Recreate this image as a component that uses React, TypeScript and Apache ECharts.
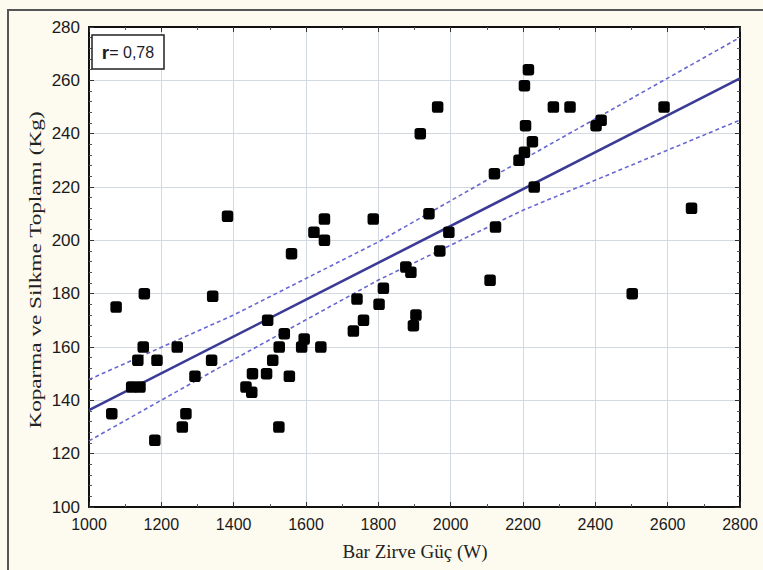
import React, { useEffect, useRef } from "react";
import * as echarts from "echarts";

// Bar peak power (W) and snatch + clean&jerk total (kg)
const power = [
  1063, 1075, 1118, 1141, 1135, 1150, 1153, 1188, 1182, 1244, 1258, 1268, 1293, 1339, 1342, 1383,
  1434, 1450, 1452, 1491, 1494, 1508, 1526, 1540, 1525, 1554, 1560, 1588, 1595, 1641, 1622, 1651,
  1651, 1786, 1731, 1741, 1759, 1802, 1814, 1876, 1890, 1904, 1897, 1916, 1964, 1940, 1970, 1995,
  2109, 2121, 2124, 2215, 2204, 2207, 2226, 2204, 2189, 2231, 2284, 2330, 2402, 2416, 2590, 2666, 2502,
];
const total = [
  135, 175, 145, 145, 155, 160, 180, 155, 125, 160, 130, 135, 149, 155, 179, 209,
  145, 143, 150, 150, 170, 155, 160, 165, 130, 149, 195, 160, 163, 160, 203, 208,
  200, 208, 166, 178, 170, 176, 182, 190, 188, 172, 168, 240, 250, 210, 196, 203,
  185, 225, 205, 264, 258, 243, 237, 233, 230, 220, 250, 250, 243, 245, 250, 212, 180,
];
// regression line and 95% band
const fitX = [1000, 2800];
const fitY = [136.3, 260.7];
const bandX = [1000, 1400, 1800, 2200, 2800];
const bandUpper = [147.8, 172, 199.4, 230.3, 276.1];
const bandLower = [124.8, 155.3, 185.1, 211.3, 245.1];

const xTicks = [1000, 1200, 1400, 1600, 1800, 2000, 2200, 2400, 2600, 2800];
const yTicks = [100, 120, 140, 160, 180, 200, 220, 240, 260, 280];
const rLabel = ["r", "= 0,78"];
const xTitle = "Bar Zirve Güç (W)";
const yTitle = "Koparma ve Silkme Toplamı (Kg)";

const GL = 89, GT = 27, GR = 23, GB = 63;

export default function App() {
  const ref = useRef<HTMLDivElement>(null);
  useEffect(() => {
    if (!ref.current) return;
    const chart = echarts.init(ref.current, null, { renderer: "svg" });
    const tickFmt = (v: number) => (xTicks.includes(v) || yTicks.includes(v) ? String(v) : "");
    const baseAxis = {
      axisLine: { show: true, onZero: false, lineStyle: { color: "#111", width: 2 } },
      axisTick: { show: true, inside: true, length: 5, lineStyle: { color: "#333", width: 1 } },
      minorTick: { show: true, length: 3, lineStyle: { color: "#555", width: 1 } },
    };
    chart.setOption({
      animation: false,
      backgroundColor: "#FDFBEF",
      grid: { left: GL, top: GT, right: GR, bottom: GB, show: true, backgroundColor: "#ffffff", borderWidth: 0 },
      xAxis: [
        {
          ...baseAxis,
          type: "value",
          min: xTicks[0],
          max: xTicks[xTicks.length - 1],
          interval: 200,
          position: "bottom",
          minorTick: { ...baseAxis.minorTick, splitNumber: 2 },
          splitLine: { show: true, lineStyle: { color: "#d3d9e3", width: 1 } },
          axisLabel: {
            formatter: tickFmt,
            color: "#1a1a1a",
            fontSize: 16,
            fontFamily: "'Liberation Sans Narrow', 'Arial Narrow', 'Liberation Sans', Arial, sans-serif",
            margin: 9,
          },
        },
        {
          ...baseAxis,
          type: "value",
          min: xTicks[0],
          max: xTicks[xTicks.length - 1],
          interval: 200,
          position: "top",
          minorTick: { ...baseAxis.minorTick, splitNumber: 2 },
          splitLine: { show: false },
          axisLabel: { show: false },
        },
      ],
      yAxis: [
        {
          ...baseAxis,
          type: "value",
          min: yTicks[0],
          max: yTicks[yTicks.length - 1],
          interval: 20,
          position: "left",
          minorTick: { ...baseAxis.minorTick, splitNumber: 5 },
          splitLine: { show: true, lineStyle: { color: "#d3d9e3", width: 1 } },
          axisLabel: {
            formatter: tickFmt,
            color: "#1a1a1a",
            fontSize: 17,
            fontFamily: "'Liberation Sans', Arial, sans-serif",
            margin: 9,
          },
        },
        {
          ...baseAxis,
          type: "value",
          min: yTicks[0],
          max: yTicks[yTicks.length - 1],
          interval: 20,
          position: "right",
          minorTick: { ...baseAxis.minorTick, splitNumber: 5 },
          splitLine: { show: false },
          axisLabel: { show: false },
        },
      ],
      series: [
        {
          type: "line",
          data: bandX.map((x, i) => [x, bandUpper[i]]),
          symbol: "none",
          lineStyle: { color: "#6767d2", width: 1.6, type: [4, 3] },
          z: 3,
        },
        {
          type: "line",
          data: bandX.map((x, i) => [x, bandLower[i]]),
          symbol: "none",
          lineStyle: { color: "#6767d2", width: 1.6, type: [4, 3] },
          z: 3,
        },
        {
          type: "line",
          data: fitX.map((x, i) => [x, fitY[i]]),
          symbol: "none",
          lineStyle: { color: "#3b3b96", width: 2.6 },
          z: 4,
        },
        {
          type: "scatter",
          data: power.map((x, i) => [x, total[i]]),
          symbol: "roundRect",
          symbolSize: 11.5,
          itemStyle: { color: "#000", opacity: 1 },
          z: 5,
        },
      ],
      graphic: [
        {
          type: "polyline",
          shape: { points: [[8, 570], [8, 10], [763, 10]] },
          style: { stroke: "#555", lineWidth: 2, fill: "none" },
          silent: true,
        },
        {
          type: "rect",
          shape: { x: 92, y: 35, width: 72, height: 34 },
          style: { fill: "#fff", stroke: "#222", lineWidth: 1.5 },
          z: 10,
        },
        {
          type: "text",
          x: 128,
          y: 52,
          style: {
            text: "{r|" + rLabel[0] + "}{v|" + rLabel[1] + "}",
            align: "center",
            verticalAlign: "middle",
            rich: {
              r: { fill: "#1c1c2a", fontSize: 19, fontWeight: "bold", fontFamily: "'Liberation Sans', Arial, sans-serif" },
              v: { fill: "#1c1c2a", fontSize: 16, fontFamily: "'Liberation Sans', Arial, sans-serif" },
            },
          },
          z: 11,
        },
        {
          type: "text",
          x: 415,
          y: 551,
          style: {
            text: xTitle,
            fill: "#222",
            font: "19px 'Liberation Serif', 'Times New Roman', serif",
            align: "center",
            verticalAlign: "middle",
          },
        },
        {
          type: "text",
          x: 35,
          y: 270,
          rotation: Math.PI / 2,
          scaleX: 1.45,
          style: {
            text: yTitle,
            fill: "#222",
            font: "16px 'Liberation Serif', 'Times New Roman', serif",
            align: "center",
            verticalAlign: "middle",
          },
        },
      ],
    });
    return () => chart.dispose();
  }, []);
  return (
    <div
      ref={ref}
      style={{ position: "absolute", left: 0, top: 0, width: 763, height: 570 }}
    />
  );
}
